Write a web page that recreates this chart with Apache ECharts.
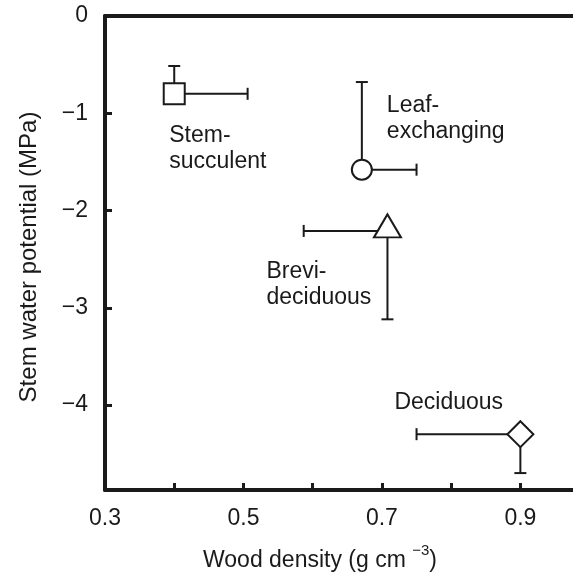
<!DOCTYPE html>
<html>
<head>
<meta charset="utf-8">
<script src="https://cdn.jsdelivr.net/npm/echarts@6/dist/echarts.min.js"></script>
<style>
  html, body { margin: 0; padding: 0; background: #fff; }
  #chart { width: 573px; height: 576px; }
</style>
</head>
<body>
<div id="chart"></div>
<script>
  // groups of species, one marker each
  const groups = ['Stem-\nsucculent', 'Leaf-\nexchanging', 'Brevi-\ndeciduous', 'Deciduous'];
  const density = [0.40, 0.671, 0.708, 0.90];          // g cm-3
  const potential = [-0.80, -1.58, -2.21, -4.30];      // MPa
  // end of the one-sided error bars
  const densityBarEnd = [0.506, 0.750, 0.587, 0.750];
  const potentialBarEnd = [-0.514, -0.679, -3.119, -4.70];
  const xTicks = [0.4, 0.5, 0.6, 0.7, 0.8, 0.9];
  const xLabels = [0.3, 0.5, 0.7, 0.9];
  const yLabels = [0, -1, -2, -3, -4];

  const FONT = '"Liberation Sans", Arial, Helvetica, sans-serif';
  const INK = '#1a1a1a';

  const symbols = ['rect', 'circle', 'triangle', 'diamond'];
  const symbolSizes = [[21, 21], 20, [27, 23], [26, 26]];
  const symbolOffsets = [[0, 0], [0, 0], [0, -5], [0, 0]];
  const labelOffsets = [[-5, 29], [25, -77], [-121, 33], [-126, -45]];

  const chart = echarts.init(document.getElementById('chart'));

  const points = density.map((x, i) => ({
    value: [x, potential[i]],
    symbol: symbols[i],
    symbolSize: symbolSizes[i],
    symbolOffset: symbolOffsets[i],
    label: {
      show: true,
      formatter: groups[i],
      position: 'inside',
      align: 'left',
      verticalAlign: 'top',
      offset: labelOffsets[i],
      fontSize: 23,
      lineHeight: 26,
      fontFamily: FONT,
      color: INK
    }
  }));

  const bars = density.map((x, i) => [x, potential[i], densityBarEnd[i], potentialBarEnd[i]]);

  function renderBars(params, api) {
    const c = api.coord([api.value(0), api.value(1)]);
    const ex = api.coord([api.value(2), api.value(1)]);
    const ey = api.coord([api.value(0), api.value(3)]);
    const cap = 6;
    const style = { stroke: INK, lineWidth: 2 };
    return {
      type: 'group',
      children: [
        { type: 'line', shape: { x1: c[0], y1: c[1], x2: ex[0], y2: ex[1] }, style },
        { type: 'line', shape: { x1: ex[0], y1: ex[1] - cap, x2: ex[0], y2: ex[1] + cap }, style },
        { type: 'line', shape: { x1: c[0], y1: c[1], x2: ey[0], y2: ey[1] }, style },
        { type: 'line', shape: { x1: ey[0] - cap, y1: ey[1], x2: ey[0] + cap, y2: ey[1] }, style }
      ]
    };
  }

  const axisLine = { show: true, onZero: false, lineStyle: { color: INK, width: 4 } };

  chart.setOption({
    animation: false,
    grid: { left: 105, top: 16, right: 0, bottom: 86, outerBoundsMode: 'none' },
    xAxis: [{
      type: 'value',
      min: 0.3,
      max: 0.976,
      interval: 0.1,
      name: 'Wood density (g cm {sup|\u22123})',
      nameLocation: 'middle',
      nameGap: 53,
      nameTextStyle: {
        fontSize: 23, lineHeight: 36, fontFamily: FONT, color: INK,
        padding: [0, 38, 0, 0],
        rich: { sup: { fontSize: 15, lineHeight: 15, verticalAlign: 'top', fontFamily: FONT, color: INK } }
      },
      axisLine: axisLine,
      axisTick: { show: true, inside: true, length: 7, customValues: xTicks, lineStyle: { color: INK, width: 3 } },
      axisLabel: {
        customValues: xLabels,
        margin: 17,
        fontSize: 23, fontFamily: FONT, color: INK,
        formatter: v => v.toFixed(1)
      },
      splitLine: { show: false }
    }, {
      type: 'value',
      position: 'top',
      min: 0.3,
      max: 0.976,
      axisLine: axisLine,
      axisTick: { show: false },
      axisLabel: { show: false },
      splitLine: { show: false }
    }],
    yAxis: {
      type: 'value',
      min: -4.874,
      max: 0,
      name: 'Stem water potential (MPa)',
      nameLocation: 'middle',
      nameGap: 64,
      nameTextStyle: { fontSize: 24, fontFamily: FONT, color: INK, padding: [0, 8, 0, 0] },
      axisLine: axisLine,
      axisTick: { show: true, inside: true, length: 7, customValues: yLabels.slice(1), lineStyle: { color: INK, width: 3 } },
      axisLabel: {
        customValues: yLabels,
        margin: 17,
        fontSize: 23, fontFamily: FONT, color: INK,
        formatter: v => (v === 0 ? '0' : '\u2212' + Math.abs(v))
      },
      splitLine: { show: false }
    },
    series: [{
      type: 'custom',
      renderItem: renderBars,
      data: bars,
      z: 2,
      silent: true
    }, {
      type: 'scatter',
      data: points,
      z: 3,
      itemStyle: { color: '#fff', borderColor: INK, borderWidth: 2, opacity: 1 }
    }]
  });
</script>
</body>
</html>
